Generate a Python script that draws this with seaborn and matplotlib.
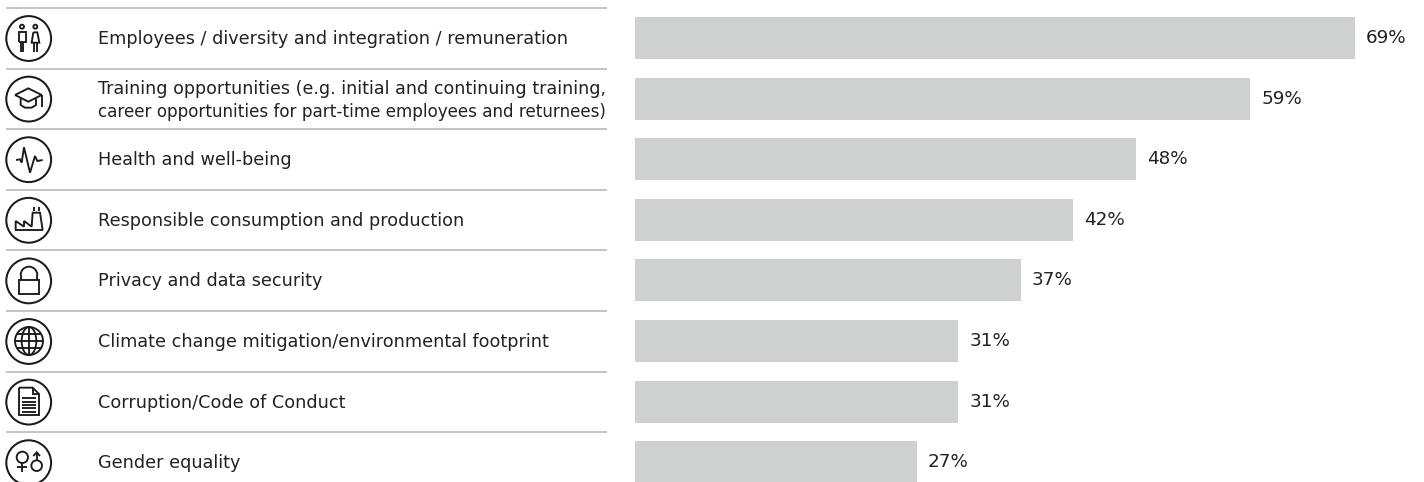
import matplotlib
matplotlib.use('Agg')
import matplotlib.pyplot as plt
import pandas as pd
import seaborn as sns
from matplotlib.patches import Circle, Ellipse, Rectangle, Arc

topics = [
    'Employees / diversity and integration / remuneration',
    'Training opportunities (e.g. initial and continuing training,\ncareer opportunities for part-time employees and returnees)',
    'Health and well-being',
    'Responsible consumption and production',
    'Privacy and data security',
    'Climate change mitigation/environmental footprint',
    'Corruption/Code of Conduct',
    'Gender equality',
]
shares = [69, 59, 48, 42, 37, 31, 31, 27]

W, H = 1424, 482
BAR_X0 = 635
PX_PER_PCT = 10.43
ROW0 = 38.0
ROW_H = 60.6
TEXT_COLOR = '#222222'
INK = '#1a1a1a'
LW = 1.35

sns.set_theme(style='white')
plt.rcParams['font.family'] = ['DejaVu Sans']

fig = plt.figure(figsize=(W / 100, H / 100), dpi=100, facecolor='white')

# bars
ax = fig.add_axes([BAR_X0 / W, 0, 1 - BAR_X0 / W, 1])
df = pd.DataFrame({'topic': topics, 'share': shares})
sns.barplot(data=df, x='share', y='topic', color='#cfd1d0', saturation=1, width=0.693, linewidth=0, ax=ax)
ax.set_xlim(0, (W - BAR_X0) / PX_PER_PCT)
ax.set_ylim((H - ROW0) / ROW_H, -ROW0 / ROW_H)
ax.bar_label(ax.containers[0], fmt='%d%%', padding=8, fontsize=13.2, color=TEXT_COLOR)
ax.axis('off')

# pixel overlay for labels, rules and icons
ov = fig.add_axes([0, 0, 1, 1])
ov.set_xlim(0, W)
ov.set_ylim(H, 0)
ov.axis('off')

for i, t in enumerate(topics):
    y = ROW0 + i * ROW_H + 1
    if '\n' in t:
        # the two lines are set apart by hand, Verdana widths differ from DejaVu
        first, second = t.split('\n')
        ov.text(98, y - 10.5, first, fontsize=12.6, color=TEXT_COLOR, va='center', ha='left')
        ov.text(98, y + 12, second, fontsize=12.1, color=TEXT_COLOR, va='center', ha='left')
    else:
        ov.text(98, y, t, fontsize=12.7, color=TEXT_COLOR, va='center', ha='left')
    ov.plot([6, 607], [8 + i * ROW_H] * 2, color='#b9bbba', lw=1.2, solid_capstyle='butt')


def zl(pts, off=0, lw=LW):
    # points read in 3x zoom units
    ov.plot([p[0] / 3 for p in pts], [p[1] / 3 + off for p in pts], color=INK, lw=lw,
            solid_joinstyle='miter', solid_capstyle='butt')


def zc(x, y, r, off=0, lw=LW):
    ov.add_patch(Circle((x / 3, y / 3 + off), r / 3, fill=False, ec=INK, lw=lw))


for i in range(8):
    ov.add_patch(Circle((28.7, ROW0 + 0.5 + i * ROW_H), 22.4, fill=False, ec=INK, lw=1.45))

# people
zc(66, 80, 6)
zc(106, 80, 6)
zl([(56, 125), (56, 97), (77, 97), (77, 125), (56, 125)])
zl([(62, 125), (62, 155)])
zl([(70, 125), (70, 155)])
zl([(100, 97), (112, 97), (118, 128), (95, 128), (100, 97)])
zl([(101, 128), (101, 155)])
zl([(112, 128), (112, 155)])

# mortarboard
zl([(45, 285), (85, 265), (125, 285), (85, 305), (45, 285)])
zl([(62, 295), (62, 315), (75, 323), (95, 323), (108, 315), (108, 295)])
zl([(125, 285), (125, 322)])

# pulse
zl([(48, 480), (60, 478), (65, 488), (72, 442), (90, 518), (105, 468), (112, 483), (128, 480)])

# factory
zl([(45, 690), (128, 690)])
zl([(47, 690), (47, 663), (72, 680), (72, 663), (95, 680), (98, 638), (120, 638), (128, 690)])
zl([(102, 620), (102, 632)])
zl([(116, 620), (116, 632)])

# lock
ov.add_patch(Rectangle((57 / 3, 120 / 3 + 240), 60 / 3, 42 / 3, fill=False, ec=INK, lw=LW))
zl([(62, 120), (62, 105)], 240)
zl([(112, 120), (112, 105)], 240)
ov.add_patch(Arc((87 / 3, 105 / 3 + 240), 50 / 3, 50 / 3, theta1=180, theta2=360, ec=INK, lw=LW))

# globe
zc(87, 303, 42, 240)
ov.add_patch(Ellipse((87 / 3, 303 / 3 + 240), 44 / 3, 84 / 3, fill=False, ec=INK, lw=LW))
zl([(87, 261), (87, 345)], 240)
zl([(45, 303), (129, 303)], 240)
zl([(52, 282), (122, 282)], 240)
zl([(52, 324), (122, 324)], 240)

# document
zl([(57, 443), (98, 443), (117, 462), (117, 525), (57, 525), (57, 443)], 240)
zl([(98, 443), (98, 462), (117, 462)], 240)
for y in [475, 485, 495, 505, 515]:
    zl([(65, y), (108, y)], 240)

# gender
zc(67, 652, 17, 240)
zl([(67, 669), (67, 695)], 240)
zl([(52, 680), (82, 680)], 240)
zc(110, 677, 16, 240)
zl([(110, 661), (110, 637)], 240)
zl([(100, 648), (110, 637), (120, 648)], 240)

plt.savefig('out.png', dpi=100)
